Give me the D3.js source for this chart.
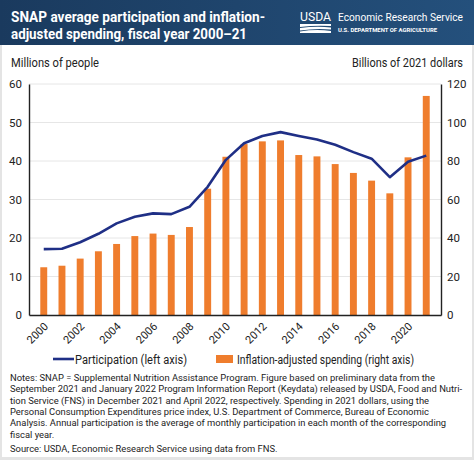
<!DOCTYPE html>
<html>
<head>
<meta charset="utf-8">
<script src="https://cdn.jsdelivr.net/npm/d3@7"></script>
<style>
  body { margin: 0; background: #fff; }
  text { font-family: Roboto, "Liberation Sans", sans-serif; }
</style>
</head>
<body>
<svg id="chart" width="474" height="460"></svg>
<script>
// values
const years = d3.range(2000, 2022)
const participation = [17.1, 17.2, 18.9, 21.1, 23.8, 25.5, 26.4, 26.2, 28.1, 33.3, 40.3,
  44.6, 46.5, 47.5, 46.5, 45.6, 44.2, 42.3, 40.6, 35.8, 39.8, 41.4]
const spending = [24.8, 25.6, 29.3, 33.1, 36.9, 41.0, 42.3, 41.6, 45.7, 65.6, 82.2,
  88.8, 90.2, 90.7, 83.1, 82.4, 78.4, 73.8, 69.8, 63.2, 81.9, 113.8]
const leftTicks = [0, 10, 20, 30, 40, 50, 60]
const rightTicks = [0, 20, 40, 60, 80, 100, 120]
const yearLabels = d3.range(2000, 2021, 2)

const notes = [
  "Notes: SNAP = Supplemental Nutrition Assistance Program. Figure based on preliminary data from the",
  "September 2021 and January 2022 Program Information Report (Keydata) released by USDA, Food and Nutri-",
  "tion Service (FNS) in December 2021 and April 2022, respectively. Spending in 2021 dollars, using the",
  "Personal Consumption Expenditures price index, U.S. Department of Commerce, Bureau of Economic",
  "Analysis. Annual participation is the average of monthly participation in each month of the corresponding",
  "fiscal year."
]
const source = "Source: USDA, Economic Research Service using data from FNS."

const navy = "#1f2f86"
const orange = "#ef7d2d"

const svg = d3.select("#chart")

// squeeze a text to a given width, the reference font is narrower than Roboto
const fit = (sel, w) => sel.attr("textLength", w).attr("lengthAdjust", "spacingAndGlyphs")

// frame
svg.append("rect").attr("x", 0).attr("y", 0).attr("width", 474).attr("height", 460).attr("fill", "#e4e4e4")
svg.append("rect").attr("x", 2).attr("y", 0).attr("width", 470).attr("height", 457).attr("fill", "#fff")

// header band
const grad = svg.append("defs").append("linearGradient").attr("id", "hdr")
grad.append("stop").attr("offset", "0%").attr("stop-color", "#1a3a5e")
grad.append("stop").attr("offset", "100%").attr("stop-color", "#24507c")
svg.append("rect").attr("x", 0).attr("y", 0).attr("width", 474).attr("height", 45).attr("fill", "url(#hdr)")

const title = svg.append("g").attr("fill", "#fff").attr("font-weight", 700).attr("font-size", 14.5)
fit(title.append("text").attr("x", 11).attr("y", 22).text("SNAP average participation and inflation-"), 254)
fit(title.append("text").attr("x", 11).attr("y", 39).text("adjusted spending, fiscal year 2000–21"), 236)

// USDA mark
fit(svg.append("text").attr("x", 300).attr("y", 21).attr("fill", "#fff").attr("font-size", 13)
  .text("USDA"), 31)
svg.append("path").attr("fill", "#fff")
  .attr("d", "M300,24 L331,24 L331,26 Q316,25 300,27 Z M300,28 Q316,26 331,27.5 L331,29.5 Q316,28 300,30.5 Z M300,31.5 Q316,29 331,31 L331,33 L300,33 Z")
fit(svg.append("text").attr("x", 338).attr("y", 21).attr("fill", "#fff").attr("font-size", 11)
  .text("Economic Research Service"), 125)
fit(svg.append("text").attr("x", 338).attr("y", 31.5).attr("fill", "#fff").attr("font-size", 5.2)
  .attr("font-weight", 700).text("U.S. DEPARTMENT OF AGRICULTURE"), 99)

// axis titles
fit(svg.append("text").attr("x", 11).attr("y", 67).attr("font-size", 12).attr("fill", "#222")
  .text("Millions of people"), 88)
fit(svg.append("text").attr("x", 352).attr("y", 67).attr("font-size", 12).attr("fill", "#222")
  .text("Billions of 2021 dollars"), 111)

// scales
const x = d3.scaleBand().domain(years).range([29, 441]).padding(0.62)
const yL = d3.scaleLinear().domain([0, 60]).range([315, 84])
const yR = d3.scaleLinear().domain([0, 120]).range([315, 84])

// gridlines
svg.append("g").selectAll("line").data(leftTicks.slice(1)).join("line")
  .attr("x1", 29).attr("x2", 441)
  .attr("y1", d => yL(d)).attr("y2", d => yL(d))
  .attr("stroke", "#e6e6e6").attr("stroke-width", 1)

// bars
svg.append("g").selectAll("rect").data(spending).join("rect")
  .attr("x", (d, i) => x(years[i]))
  .attr("width", x.bandwidth())
  .attr("y", d => yR(d))
  .attr("height", d => yR(0) - yR(d))
  .attr("fill", orange)

// line
const line = d3.line()
  .x((d, i) => x(years[i]) + x.bandwidth() / 2)
  .y(d => yL(d))
svg.append("path").datum(participation)
  .attr("d", line).attr("fill", "none")
  .attr("stroke", navy).attr("stroke-width", 2.6).attr("stroke-linejoin", "round")

// axes
const leftAxis = svg.append("g").attr("transform", "translate(29,0)")
  .call(d3.axisLeft(yL).tickValues(leftTicks).tickSize(0).tickPadding(7))
const rightAxis = svg.append("g").attr("transform", "translate(441,0)")
  .call(d3.axisRight(yR).tickValues(rightTicks).tickSize(0).tickPadding(6))
const bottomAxis = svg.append("g").attr("transform", "translate(0,315)")
  .call(d3.axisBottom(x).tickValues(yearLabels).tickSize(0).tickPadding(0))

;[leftAxis, rightAxis, bottomAxis].forEach(a => {
  a.select(".domain").attr("stroke", "#222").attr("stroke-width", 1.4)
  a.selectAll("text").attr("font-size", 11.5).attr("fill", "#222")
    .attr("font-family", "Roboto, sans-serif")
})
bottomAxis.selectAll("text")
  .attr("text-anchor", "end")
  .attr("dy", 0)
  .attr("transform", "translate(5,12) rotate(-45)")
  .attr("font-size", 11)

// legend
const lg = svg.append("g").attr("font-size", 12.5).attr("fill", "#222")
lg.append("line").attr("x1", 53).attr("x2", 74).attr("y1", 359).attr("y2", 359)
  .attr("stroke", navy).attr("stroke-width", 2.6)
fit(lg.append("text").attr("x", 75).attr("y", 364).text("Participation (left axis)"), 112)
lg.append("rect").attr("x", 216).attr("y", 355).attr("width", 17).attr("height", 8).attr("fill", orange)
fit(lg.append("text").attr("x", 237).attr("y", 364).text("Inflation-adjusted spending (right axis)"), 177)

// notes
svg.append("g").selectAll("text").data(notes).join("text")
  .attr("x", 10).attr("y", (d, i) => 381 + i * 11.3)
  .attr("font-size", 9.4).attr("fill", "#222").text(d => d)
svg.append("text").attr("x", 10).attr("y", 452).attr("font-size", 9.4).attr("fill", "#222").text(source)
</script>
</body>
</html>
